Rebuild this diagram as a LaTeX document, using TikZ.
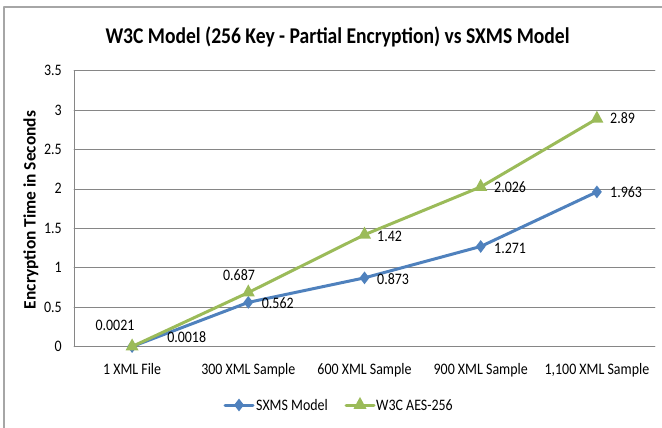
\documentclass[tikz,border=0pt]{standalone}
\usepackage{fontspec}
\setmainfont{Carlito}[FakeStretch=0.87]
\newfontfamily\axistitlefont{Carlito}
\usetikzlibrary{shapes.geometric}
\definecolor{sxmsblue}{HTML}{4F81BD}
\definecolor{w3cgreen}{HTML}{9BBB59}
\definecolor{gridgray}{HTML}{868686}
\begin{document}
\begin{tikzpicture}[x=1pt, y=-1pt, font=\fontsize{16}{18}\selectfont, line join=round, line cap=round,
    gridline/.style={gridgray, line width=0.9pt},
    sxmsline/.style={sxmsblue, line width=3pt},
    w3cline/.style={w3cgreen, line width=3pt},
    sxmsmark/.style={diamond, fill=sxmsblue, inner sep=0pt, minimum width=10pt, minimum height=13pt},
    w3cmark/.style={isosceles triangle, shape border rotate=90, isosceles triangle stretches, fill=w3cgreen, inner sep=0pt, minimum width=13pt, minimum height=12pt},
    vallabel/.style={inner sep=0pt, anchor=base west},
    ticklabel/.style={inner sep=0pt, anchor=base east}]
        \useasboundingbox (0,0) rectangle (662,428);
        \clip (0,0) rectangle (662,428);
        \draw[gray!70, line width=1.5pt] (4,7) rectangle (680,440);

        \node[font=\bfseries\fontsize{22.5}{26}\selectfont, inner sep=0pt, anchor=base] (title) at (337.5,43.3) {W3C Model (256 Key - Partial Encryption) vs SXMS Model};
        \node[font=\axistitlefont\bfseries\fontsize{17.4}{19}\selectfont, rotate=90, inner sep=0pt] (ytitle) at (31,210) {Encryption Time in Seconds};

        \foreach \v/\lab [count=\i] in {346.7/0, 307.27/0.5, 267.84/1, 228.41/1.5, 188.98/2, 149.55/2.5, 110.12/3, 70.69/3.5} {
            \draw[gridline] (74,\v) -- (655,\v);
            \node[ticklabel] (tick\i) at (62,\v+5) {\lab};
        }
        \draw[gridline] (74,70.69) -- (74,346.7);

        \node[inner sep=0pt, anchor=base] (cat1) at (132.1,374) {1 XML File};
        \node[inner sep=0pt, anchor=base] (cat2) at (248.3,374) {300 XML Sample};
        \node[inner sep=0pt, anchor=base] (cat3) at (364.5,374) {600 XML Sample};
        \node[inner sep=0pt, anchor=base] (cat4) at (480.7,374) {900 XML Sample};
        \node[inner sep=0pt, anchor=base] (cat5) at (596.9,374) {1,100 XML Sample};

        \coordinate (s1) at (132.1,346.56);
        \coordinate (s2) at (248.3,302.38);
        \coordinate (s3) at (364.5,277.86);
        \coordinate (s4) at (480.7,246.47);
        \coordinate (s5) at (596.9,191.90);
        \coordinate (w1) at (132.1,346.53);
        \coordinate (w2) at (248.3,292.52);
        \coordinate (w3) at (364.5,234.72);
        \coordinate (w4) at (480.7,186.93);
        \coordinate (w5) at (596.9,118.79);

        \draw[sxmsline] (s1) -- (s2) -- (s3) -- (s4) -- (s5);
        \node[sxmsmark] (ms1) at (s1) {};
        \node[sxmsmark] (ms2) at (s2) {};
        \node[sxmsmark] (ms3) at (s3) {};
        \node[sxmsmark] (ms4) at (s4) {};
        \node[sxmsmark] (ms5) at (s5) {};
        \draw[w3cline] (w1) -- (w2) -- (w3) -- (w4) -- (w5);
        \node[w3cmark] (mw1) at (w1) {};
        \node[w3cmark] (mw2) at (w2) {};
        \node[w3cmark] (mw3) at (w3) {};
        \node[w3cmark] (mw4) at (w4) {};
        \node[w3cmark] (mw5) at (w5) {};

        \node[vallabel, anchor=base] (vs1) at (186.7,342.7) {0.0018};
        \node[vallabel] (vs2) at (261.7,308.3) {0.562};
        \node[vallabel] (vs3) at (377,284) {0.873};
        \node[vallabel] (vs4) at (494,253) {1.271};
        \node[vallabel] (vs5) at (610,197.7) {1.963};
        \node[vallabel, anchor=base] (vw1) at (115,330) {0.0021};
        \node[vallabel, anchor=base] (vw2) at (239,280.7) {0.687};
        \node[vallabel] (vw3) at (377,241) {1.42};
        \node[vallabel] (vw4) at (494,192.7) {2.026};
        \node[vallabel] (vw5) at (610,123.5) {2.89};

        \coordinate (lsa) at (225,405);
        \coordinate (lsb) at (253,405);
        \coordinate (lwa) at (346,405);
        \coordinate (lwb) at (374,405);
        \draw[sxmsline] (lsa) -- (lsb);
        \node[sxmsmark] (legs) at (239,405) {};
        \node[vallabel] (legst) at (256,410) {SXMS Model};
        \draw[w3cline] (lwa) -- (lwb);
        \node[w3cmark] (legw) at (360,405) {};
        \node[vallabel] (legwt) at (376,410) {W3C AES-256};
\end{tikzpicture}
\end{document}
